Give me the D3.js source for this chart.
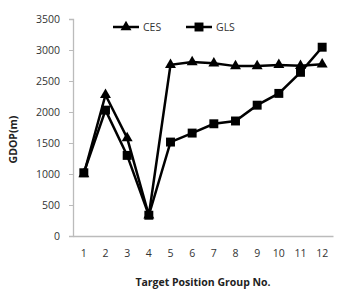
<!DOCTYPE html>
<html>
<head>
<meta charset="utf-8">
<script src="https://cdn.jsdelivr.net/npm/d3@7"></script>
<style>
  body { margin: 0; background: #fff; }
  text { font-family: "Open Sans", "Liberation Sans", sans-serif; }
</style>
</head>
<body>
<svg id="chart"></svg>
<script>
const width = 357, height = 293;

// data
const groups = [1, 2, 3, 4, 5, 6, 7, 8, 9, 10, 11, 12];
const cesValues = [1000, 2275, 1580, 335, 2760, 2805, 2785, 2740, 2740, 2760, 2745, 2770];
const glsValues = [1020, 2030, 1300, 335, 1515, 1660, 1810, 1855, 2110, 2300, 2640, 3045];
const yTicks = [0, 500, 1000, 1500, 2000, 2500, 3000, 3500];

const svg = d3.select("#chart")
    .attr("width", width)
    .attr("height", height);

const margin = {left: 73, right: 24, top: 19, bottom: 57};

const x = d3.scaleBand()
    .domain(groups)
    .range([margin.left, width - margin.right]);

const y = d3.scaleLinear()
    .domain([0, 3500])
    .range([height - margin.bottom, margin.top]);

//y axis
const yAxis = svg.append("g")
    .attr("transform", `translate(${margin.left},0)`)
    .call(d3.axisLeft(y).tickValues(yTicks).tickFormat(d3.format("d")).tickSize(4).tickPadding(9));
yAxis.select(".domain").attr("stroke", "#bbb").attr("stroke-width", 1.3);
yAxis.selectAll(".tick line").attr("stroke", "#bbb");
yAxis.selectAll(".tick text").attr("font-size", 10.5).attr("fill", "#333");

//x axis
const xAxis = svg.append("g")
    .attr("transform", `translate(0,${y(0)})`)
    .call(d3.axisBottom(x).tickSize(0).tickPadding(14));
xAxis.select(".domain").attr("stroke", "#bbb").attr("stroke-width", 1.3);
xAxis.selectAll(".tick text").attr("font-size", 10.5).attr("fill", "#333");

//axis titles
svg.append("text")
    .attr("transform", `translate(17,${(margin.top + y(0)) / 2 + 12}) rotate(-90)`)
    .attr("text-anchor", "middle")
    .attr("font-size", 10.5)
    .attr("font-weight", "bold")
    .attr("fill", "#222")
    .text("GDOP(m)");

svg.append("text")
    .attr("x", 203)
    .attr("y", 286)
    .attr("text-anchor", "middle")
    .attr("font-size", 10.5)
    .attr("font-weight", "bold")
    .attr("fill", "#222")
    .text("Target Position Group No.");

const cx = d => x(d) + x.bandwidth() / 2;

const line = d3.line()
    .x(d => cx(d.g))
    .y(d => y(d.v));

const tri = d3.symbol().type(d3.symbolTriangle).size(52);
const sq = d3.symbol().type(d3.symbolSquare).size(80);

const series = [
    {name: "CES", values: cesValues, symbol: tri},
    {name: "GLS", values: glsValues, symbol: sq}
];

series.forEach(s => {
    const pts = groups.map((g, i) => ({g: g, v: s.values[i]}));
    svg.append("path")
        .datum(pts)
        .attr("d", line)
        .attr("fill", "none")
        .attr("stroke", "#000")
        .attr("stroke-width", 2.5);
    svg.selectAll(null)
        .data(pts)
        .join("path")
        .attr("transform", d => `translate(${cx(d.g)},${y(d.v)})`)
        .attr("d", s.symbol)
        .attr("fill", "#000");
});

//legend
const legendItems = [
    {name: "CES", symbol: tri, x: 113},
    {name: "GLS", symbol: sq, x: 186}
];
legendItems.forEach(l => {
    const g = svg.append("g").attr("transform", `translate(${l.x},27)`);
    g.append("line")
        .attr("x1", 0).attr("x2", 26)
        .attr("stroke", "#000").attr("stroke-width", 2.5);
    g.append("path")
        .attr("transform", "translate(13,0)")
        .attr("d", l.symbol)
        .attr("fill", "#000");
    g.append("text")
        .attr("x", 30).attr("y", 4)
        .attr("font-size", 10.5)
        .attr("fill", "#333")
        .text(l.name);
});
</script>
</body>
</html>
